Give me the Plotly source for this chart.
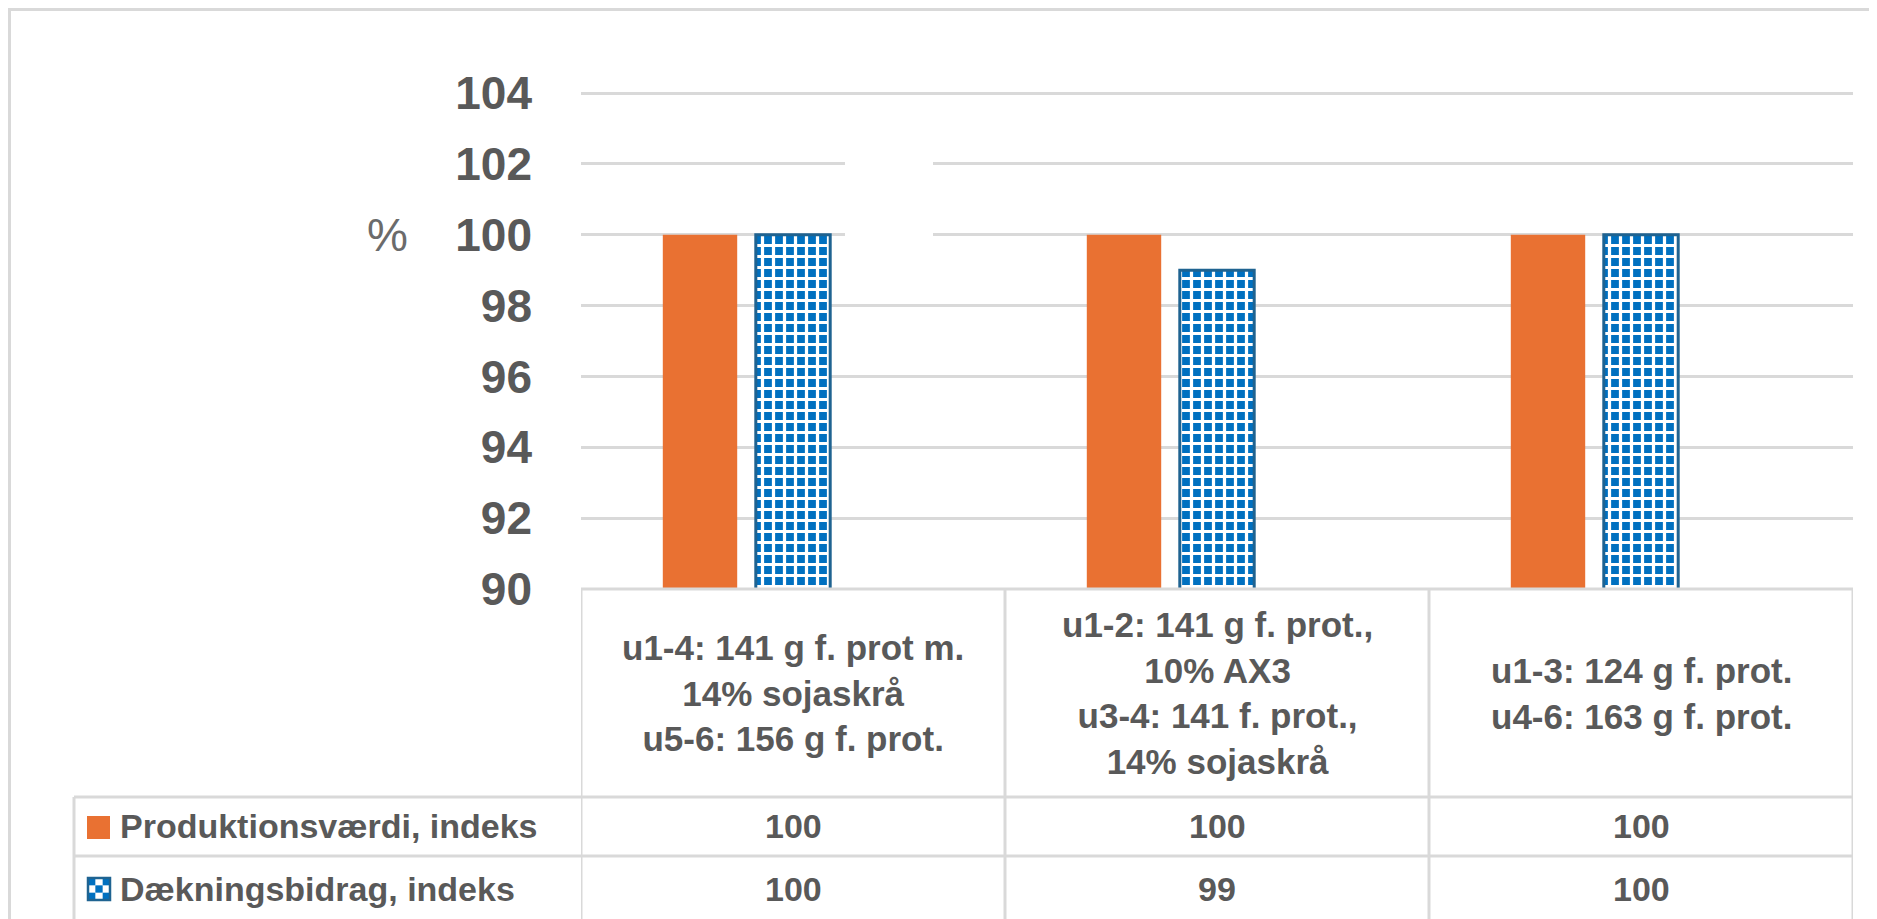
import plotly.graph_objects as go

# ---- data ----
categories = [
    "u1-4: 141 g f. prot m.<br>14% sojaskrå<br>u5-6: 156 g f. prot.",
    "u1-2: 141 g f. prot.,<br>10% AX3<br>u3-4: 141 f. prot.,<br>14% sojaskrå",
    "u1-3: 124 g f. prot.<br>u4-6: 163 g f. prot.",
]
series_names = ["Produktionsværdi, indeks", "Dækningsbidrag, indeks"]
produktionsvaerdi = [100, 100, 100]
daekningsbidrag = [100, 99, 100]
empty_series = [None, None, None]
y_ticks = [90, 92, 94, 96, 98, 100, 102, 104]
y_range = [90, 104.2]
y_unit = "%"

# ---- layout constants (page pixels; the page body has an 8px margin) ----
OFF = 8
PAGE_W, PAGE_H = 1877, 919
W, H = PAGE_W - OFF, PAGE_H - OFF
PL, PR, PT, PB = 581, 1853, 86, 589          # plot area in page pixels
PW, PH = PR - PL, PB - PT
GRAY = "#D9D9D9"
TXT = "#595959"
ORANGE = "#E97132"
BLUE = "#0070C0"
BLUE_EDGE = "#1F6391"
FONT = "Liberation Sans, Arial, sans-serif"


def px(x):
    return (x - PL) / PW


def py(y):
    return (PB - y) / PH


fig = go.Figure()
fig.add_trace(go.Bar(
    x=categories, y=produktionsvaerdi, name=series_names[0],
    marker=dict(color=ORANGE, line=dict(width=0)),
    showlegend=False,
))
fig.add_trace(go.Bar(
    x=categories, y=daekningsbidrag, name=series_names[1],
    marker=dict(
        color=BLUE,
        pattern=dict(shape="+", bgcolor=BLUE, fgcolor="white",
                     size=11, solidity=0.5, fillmode="replace"),
        line=dict(color=BLUE_EDGE, width=3),
    ),
    showlegend=False,
))
fig.add_trace(go.Bar(x=categories, y=empty_series, showlegend=False,
                     hoverinfo="skip"))

shapes = []
line = dict(color=GRAY, width=3)
# white patch over gridlines (as in reference)
shapes.append(dict(type="rect", xref="paper", yref="paper",
                   x0=px(845), x1=px(933), y0=py(270), y1=py(120),
                   fillcolor="white", line=dict(width=0), layer="above"))
# table top
shapes.append(dict(type="line", xref="paper", yref="paper",
                   x0=0, x1=1, y0=0, y1=0, line=line))
# category column separators
for i in range(len(categories) + 1):
    shapes.append(dict(type="line", xref="x", yref="paper",
                       x0=i - 0.5, x1=i - 0.5, y0=0, y1=py(925), line=line))
# data rows
for yy in (797, 856):
    shapes.append(dict(type="line", xref="paper", yref="paper",
                       x0=px(74), x1=1, y0=py(yy), y1=py(yy), line=line))
shapes.append(dict(type="line", xref="paper", yref="paper",
                   x0=px(74), x1=px(74), y0=py(797), y1=py(925), line=line))
# outer frame
shapes.append(dict(type="line", xref="paper", yref="paper",
                   x0=px(9.5), x1=px(9.5), y0=py(9.5), y1=py(925), line=line))
shapes.append(dict(type="line", xref="paper", yref="paper",
                   x0=px(8), x1=px(1885), y0=py(9.5), y1=py(9.5), line=line))
# legend keys
shapes.append(dict(type="rect", xref="paper", yref="paper",
                   x0=px(87), x1=px(110), y0=py(839), y1=py(816),
                   fillcolor=ORANGE, line=dict(width=0)))
k0x, k0y, ks = 88, 878, 22
shapes.append(dict(type="rect", xref="paper", yref="paper",
                   x0=px(k0x), x1=px(k0x + ks), y0=py(k0y + ks), y1=py(k0y),
                   fillcolor="white", line=dict(width=0)))
c = ks / 3
for (i, j) in [(0, 0), (2, 0), (1, 1), (0, 2), (2, 2)]:
    shapes.append(dict(type="rect", xref="paper", yref="paper",
                       x0=px(k0x + i * c), x1=px(k0x + (i + 1) * c),
                       y0=py(k0y + (j + 1) * c), y1=py(k0y + j * c),
                       fillcolor=BLUE, line=dict(width=0)))
shapes.append(dict(type="rect", xref="paper", yref="paper",
                   x0=px(k0x), x1=px(k0x + ks), y0=py(k0y + ks), y1=py(k0y),
                   fillcolor="rgba(0,0,0,0)", line=dict(color=BLUE_EDGE, width=2.5)))

ann = []
cfont = dict(family=FONT, size=35, color=TXT, weight="bold")
tfont = dict(family=FONT, size=34, color=TXT, weight="bold")
for cat in categories:
    ann.append(dict(x=cat, xref="x", y=py(693), yref="paper", text=cat,
                    showarrow=False, xanchor="center", yanchor="middle",
                    align="center", font=cfont))
for cat, v in zip(categories, produktionsvaerdi):
    ann.append(dict(x=cat, xref="x", y=py(826.5), yref="paper", text=str(v),
                    showarrow=False, xanchor="center", yanchor="middle", font=tfont))
for cat, v in zip(categories, daekningsbidrag):
    ann.append(dict(x=cat, xref="x", y=py(889), yref="paper", text=str(v),
                    showarrow=False, xanchor="center", yanchor="middle", font=tfont))
for name, yy in zip(series_names, (826.5, 889)):
    ann.append(dict(x=px(118), xref="paper", y=py(yy), yref="paper", text=name,
                    showarrow=False, xanchor="left", yanchor="middle", font=tfont))
ann.append(dict(x=px(387), xref="paper", y=py(235), yref="paper", text=y_unit,
                showarrow=False, xanchor="center", yanchor="middle",
                font=dict(family=FONT, size=46, color="#6b6b6b")))

fig.update_layout(
    width=W, height=H,
    margin=dict(l=PL - OFF, r=W - (PR - OFF), t=PT - OFF, b=H - (PB - OFF), pad=0),
    paper_bgcolor="white", plot_bgcolor="white",
    barmode="group", bargap=0.342, bargroupgap=0.2,
    showlegend=False,
    shapes=shapes, annotations=ann,
    xaxis=dict(showticklabels=False, showgrid=False, showline=False,
               zeroline=False, ticks="", range=[-0.5, 2.5]),
    yaxis=dict(range=y_range, tickvals=y_ticks,
               tickfont=dict(family=FONT, size=46, color=TXT, weight="bold"),
               showgrid=True, gridcolor=GRAY, gridwidth=3,
               zeroline=False, showline=False, ticks="",
               ticklabelstandoff=48),
)

fig.write_html("out.html")
